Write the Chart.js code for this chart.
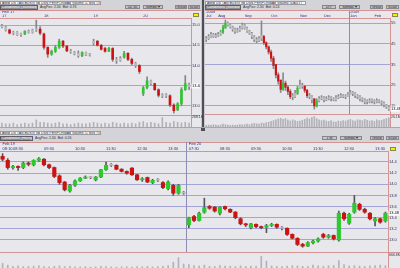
<!DOCTYPE html>
<html><head><meta charset="utf-8">
<script src="https://cdn.jsdelivr.net/npm/chart.js@4.4.1/dist/chart.umd.min.js"></script>
<style>
html,body{margin:0;padding:0;}
body{width:400px;height:268px;overflow:hidden;background:#e7e7ec;position:relative;font-family:"Liberation Sans",Arial,sans-serif;}
.a{position:absolute;box-sizing:border-box;white-space:nowrap;overflow:hidden;}
.hdr{background:#d3d3d8;}
.fld{background:#fff;border:1px solid #9a9aa2;font-size:3.5px;line-height:2px;color:#223;padding-left:1px;}
.btnd{background:#8e8e96;color:#fff;font-size:3.5px;line-height:3px;padding-left:1px;border:1px solid #5e5e66;}
.btn{background:#c6c6cc;border:1px solid #86868e;font-size:3.5px;line-height:2px;color:#222;text-align:center;}
.txt{font-size:3.5px;line-height:4px;color:#333;}
.rl{background:#d59494;height:1px;}
.yb{background:#f4f000;border:1px solid #8a8a40;}
.vl{font-size:3.5px;line-height:4px;color:#334;}
canvas{position:absolute;}
</style></head><body>

<!-- top-left header -->
<div class="a hdr" style="left:0;top:0;width:202px;height:10px"></div>
<div class="a fld" style="left:0;top:1px;width:9px;height:4px">AMR</div>
<div class="a fld" style="left:9px;top:1px;width:30px;height:4px">US TAN BUSIV NOTIFY</div>
<div class="a fld" style="left:39px;top:1px;width:31px;height:4px">DSN PERFORMANCE</div>
<div class="a fld" style="left:70px;top:1px;width:31px;height:4px">Volume (1 MIN TIC)</div>
<div class="a btnd" style="left:0;top:5px;width:38px;height:5px">Candlestick (Standard)</div>
<div class="a txt" style="left:40px;top:5px;width:40px;height:5px">AvgPos: 2.34 &nbsp;Bid: 0.76</div>
<div class="a btn" style="left:125px;top:5px;width:15px;height:4px">5D 30</div>
<div class="a btn" style="left:143px;top:5px;width:20px;height:4px">Symbol &#9662;</div>
<div class="a btn" style="left:175px;top:5px;width:12px;height:4px">Group</div>
<div class="a btn" style="left:188px;top:5px;width:12px;height:4px">Scale</div>
<div class="a rl" style="left:0;top:10px;width:202px"></div>

<!-- top-right header -->
<div class="a hdr" style="left:205px;top:0;width:195px;height:10px"></div>
<div class="a fld" style="left:205px;top:1px;width:9px;height:4px">AMR</div>
<div class="a fld" style="left:214px;top:1px;width:30px;height:4px">US TAN BUSIV NOTIFY</div>
<div class="a fld" style="left:244px;top:1px;width:31px;height:4px">DSN PERFORMANCE</div>
<div class="a fld" style="left:275px;top:1px;width:31px;height:4px">Volume (DAILY)</div>
<div class="a btnd" style="left:205px;top:5px;width:36px;height:5px">Candlestick (Standard)</div>
<div class="a txt" style="left:243px;top:5px;width:40px;height:5px">AvgPos: 2.34 &nbsp;Bid: 0.24</div>
<div class="a btn" style="left:322px;top:5px;width:14px;height:4px">D/Y</div>
<div class="a btn" style="left:339px;top:5px;width:21px;height:4px">Symbol &#9662;</div>
<div class="a btn" style="left:370px;top:5px;width:13px;height:4px">Group</div>
<div class="a btn" style="left:386px;top:5px;width:13px;height:4px">Scale</div>
<div class="a rl" style="left:205px;top:10px;width:195px"></div>

<!-- separator between top panels -->
<div class="a" style="left:201px;top:0;width:4px;height:131px;background:#c8c8cc"></div>
<div class="a" style="left:202px;top:0;width:2px;height:131px;background:#4e4e56"></div>

<!-- bottom header -->
<div class="a rl" style="left:0;top:127px;width:400px"></div>
<div class="a hdr" style="left:0;top:128px;width:400px;height:14px"></div>
<div class="a" style="left:201px;top:128px;width:4px;height:3px;background:#4e4e56"></div>
<div class="a fld" style="left:0;top:131px;width:9px;height:4px">AMR</div>
<div class="a fld" style="left:9px;top:131px;width:30px;height:4px">US TAN BUSIV NOTIFY</div>
<div class="a fld" style="left:39px;top:131px;width:31px;height:4px">DSN PERFORMANCE</div>
<div class="a fld" style="left:70px;top:131px;width:31px;height:4px">Volume (1 MIN TIC)</div>
<div class="a btnd" style="left:0;top:136px;width:33px;height:5px">Candlestick (Hourly)</div>
<div class="a txt" style="left:35px;top:136px;width:40px;height:5px">AvgPos: 2.34 &nbsp;Bid: 0.26</div>
<div class="a btn" style="left:322px;top:136px;width:15px;height:4px">1 M</div>
<div class="a btn" style="left:340px;top:136px;width:22px;height:4px">Symbol &#9662;</div>
<div class="a btn" style="left:370px;top:136px;width:14px;height:4px">Group</div>
<div class="a btn" style="left:386px;top:136px;width:13px;height:4px">Scale</div>
<div class="a rl" style="left:0;top:142px;width:400px"></div>

<canvas id="cTL" width="200" height="116" style="left:0;top:11px"></canvas>
<canvas id="cTR" width="195" height="116" style="left:205px;top:11px"></canvas>
<canvas id="cB" width="400" height="126" style="left:0;top:142px"></canvas>

<div class="a yb" style="left:193px;top:13px;width:6px;height:4px"></div>
<div class="a yb" style="left:392px;top:13px;width:6px;height:4px"></div>
<div class="a yb" style="left:390px;top:147px;width:6px;height:4px"></div>
<div class="a vl" style="left:192px;top:115px">268.1K</div>
<div class="a vl" style="left:391px;top:115px">26.1M</div>
<div class="a vl" style="left:389px;top:253px">666.8K</div>

<script>
// ---------------- DATA ----------------
// Top-left: 5-day chart, 30-minute candles (Feb 17 - Feb 20)
const tlDayTicks = [[0, '17'], [11, '18'], [24, '19'], [37, '20']];
const tlMonthTicks = [[0, 'Feb 17']];
const tlOpen  = [14.98,14.95,14.88,14.80,14.82,14.76,14.78,14.85,14.82,14.88,14.90, 14.78,14.45,14.28,14.35,14.45,14.60,14.48,14.36,14.33,14.30,14.24,14.32,14.26, 14.55,14.60,14.50,14.42,14.35,14.42,14.15,14.12,14.20,14.30,14.15,14.05,14.00, 13.30,13.45,13.62,13.55,13.40,13.26,13.24,13.25,13.02,12.90,13.05,13.40,13.52];
const tlHigh  = [15.02,14.97,14.90,14.85,14.84,14.80,14.86,14.88,14.90,15.12,14.96, 14.80,14.46,14.38,14.50,14.65,14.62,14.50,14.40,14.35,14.36,14.34,14.33,14.30, 14.65,14.62,14.52,14.45,14.45,14.44,14.20,14.22,14.35,14.32,14.18,14.08,14.02, 13.48,13.72,13.64,13.56,13.42,13.30,13.30,13.27,13.05,13.08,13.45,13.75,13.56];
const tlLow   = [14.93,14.85,14.78,14.76,14.74,14.72,14.76,14.80,14.80,14.84,14.76, 14.40,14.20,14.25,14.32,14.42,14.44,14.34,14.30,14.26,14.20,14.22,14.24,14.23, 14.50,14.48,14.38,14.33,14.34,14.10,14.05,14.10,14.18,14.12,14.02,13.95,13.80, 13.25,13.42,13.52,13.38,13.22,13.20,13.20,12.98,12.82,12.88,13.00,13.38,13.40];
const tlClose = [14.95,14.88,14.80,14.82,14.76,14.78,14.85,14.82,14.88,14.90,14.80, 14.45,14.28,14.35,14.45,14.60,14.48,14.36,14.33,14.28,14.24,14.32,14.26,14.27, 14.60,14.50,14.40,14.35,14.42,14.15,14.12,14.18,14.30,14.15,14.05,14.00,13.85, 13.45,13.62,13.55,13.40,13.26,13.24,13.28,13.02,12.88,13.05,13.40,13.55,13.48];
const tlVolume = [5,4,4,5,3,4,5,4,5,9,6, 6,5,4,5,6,4,4,3,4,5,4,4,5, 6,5,4,5,4,6,5,4,5,4,5,4,6, 7,5,6,5,4,12,6,5,7,6,5,6,5];
const tlPriceTicks = [13.0, 13.5, 14.0, 14.5, 15.0];

// Top-right: Jul 2008 - Feb 2009, daily (2-day) candles
const trMonthTicks = [[0,'Jul'],[5,'Aug'],[16,'Sep'],[27,'Oct'],[39,'Nov'],[49,'Dec'],[60,'Jan'],[70,'Feb']];
const trYearTicks = [[0,'2008'],[60,'2009']];
const trOpen  = [47.0,47.5,48.5,49.5,48.5,49.0,49.5,50.5,52.5,55.0, 54.0,53.0,52.0,51.0,51.5,52.5,54.0,52.5,51.0,50.0, 48.5,47.0,46.5,47.5,48.5,45.5,43.5,41.0,38.0,35.0, 30.0,27.5,23.0,26.0,24.0,22.0,19.5,19.5,21.0,23.5, 25.0,24.5,22.5,20.0,19.5,18.5,15.0,17.5,18.5,19.0, 18.0,18.5,19.0,18.5,18.0,19.0,19.5,20.0,19.5,19.5, 20.5,21.5,21.0,20.0,19.5,18.5,18.0,17.0,17.0,17.5, 17.5,17.0,17.5,17.0,16.5,15.5,14.5];
const trHigh  = [48.5,49.5,50.5,50,50,50.5,51.5,54,56.4,55.5, 54.5,53.5,52.5,52.5,53.5,55,54.5,53,51.5,50.5, 49,48,48.5,56,49,46,44,42,39,35, 31,27.5,31,27,25,23,21,22.5,24.5,27.5, 26,25,23,21,20,18.5,18.5,19.5,20,19.5, 19.5,20,19.5,19,20,20.5,21,20.5,20.5,21.5, 22.5,22,21.5,20.5,20,19,18.5,18,18.5,18.5, 18,18.5,18,17.5,17,15.8,15];
const trLow   = [46,47,48,48,48,48.5,49,50,52.5,53.5, 52.5,51,50,50.5,51,52,52,50.5,49.5,47.5, 46,45.5,46,46.5,44.5,42.5,40,36.5,33,28.5, 25.5,21.5,22.5,22.5,20.5,18.5,18,19,20.5,23.5, 23.5,21.5,19,18.5,16.5,13.5,14.5,17,18,17, 17.5,18,17.5,17.5,17.5,18.5,19,19,18.5,19.5, 20.5,20,19,18.5,17.5,17,16,16,16.5,16.5, 16,16.5,16.5,15.5,14.5,13.8,12.8];
const trClose = [47.5,48.5,49.5,48.5,49,49.5,50.5,53,55,54, 53,52,51,51.5,52.5,54,52.5,51,50,48.5, 47,46.5,47.5,49,45.5,43.5,41,38,34.5,30, 27,23,26,24,22,19.5,19.5,21,23.5,25, 24.5,22.5,20,19.5,18,15,17.5,18.5,19,18, 18.5,19,18.5,18,19,19.5,20,19.5,19.5,20.5, 21.5,21,20,19.5,18.5,18,17,17,17.5,17.5, 17,17.5,17,16.5,15.5,14.5,13.48];
const trVolume = [4,5,4,6,5,4,5,7,6,5, 4,5,4,5,6,5,6,7,6,8, 9,8,7,10,9,11,12,14,16,18, 20,22,19,21,17,15,18,16,14,15, 17,19,22,20,24,26,21,18,16,17, 15,14,16,13,12,15,14,16,15,17, 19,16,15,18,17,16,19,17,15,16, 14,18,16,17,19,21,23];
const trPriceTicks = [15,20,25,30,35,40,45,50,55];

// Bottom: Feb 19 - Feb 20, 10-minute candles
const bDays = [['Feb 19', '08:10', 36], ['Feb 20', '07:30', 39]];
const bOpen  = [14.50,14.43,14.30,14.32,14.30,14.38,14.35,14.43,14.45,14.35, 14.30,14.15,14.04,13.88,13.98,14.06,14.11,14.13,14.08,14.13, 14.26,14.34,14.34,14.27,14.23,14.29,14.17,14.08,14.12,14.03, 14.07,14.03,13.92,13.98,13.84,13.85,
  13.27,13.42,13.35,13.50,13.60,13.59,13.48,13.60,13.55,13.50, 13.38,13.29,13.22,13.28,13.24,13.23,13.26,13.28,13.22,13.21, 13.10,13.03,12.92,12.89,12.95,12.98,13.10,13.05,13.08,13.00, 13.48,13.30,13.50,13.64,13.55,13.48,13.34,13.38,13.34];
const bHigh  = [14.55,14.46,14.34,14.33,14.40,14.40,14.44,14.48,14.46,14.36, 14.31,14.17,14.05,14.00,14.08,14.12,14.15,14.14,14.14,14.27, 14.40,14.37,14.35,14.28,14.24,14.30,14.18,14.12,14.13,14.09, 14.10,14.05,14.06,14.00,14.00,13.87,
  13.41,13.44,13.50,13.75,13.62,13.60,13.60,13.61,13.56,13.51, 13.40,13.30,13.30,13.29,13.25,13.28,13.30,13.29,13.24,13.22, 13.11,13.04,12.94,12.97,13.00,13.04,13.12,13.10,13.09,13.52, 13.50,13.48,13.80,13.66,13.57,13.49,13.40,13.39,13.50];
const bLow   = [14.42,14.27,14.27,14.25,14.28,14.33,14.33,14.41,14.33,14.28, 14.12,14.00,13.88,13.86,13.96,14.05,14.10,14.10,14.06,14.12, 14.25,14.32,14.26,14.22,14.18,14.16,14.07,14.05,14.03,14.01, 14.05,13.92,13.90,13.80,13.82,13.82,
  13.22,13.33,13.34,13.48,13.55,13.50,13.45,13.54,13.49,13.38, 13.27,13.24,13.20,13.22,13.20,13.13,13.24,13.21,13.18,13.08, 13.02,12.90,12.87,12.88,12.93,12.96,13.03,13.03,13.00,12.98, 13.35,13.28,13.48,13.53,13.48,13.36,13.25,13.30,13.32];
const bClose = [14.45,14.30,14.32,14.30,14.38,14.36,14.43,14.46,14.35,14.30, 14.14,14.03,13.90,13.98,14.06,14.11,14.13,14.12,14.13,14.26, 14.34,14.35,14.27,14.23,14.20,14.17,14.08,14.10,14.04,14.07, 14.08,13.94,14.04,13.84,13.98,13.84,
  13.40,13.35,13.48,13.58,13.57,13.52,13.59,13.56,13.50,13.40, 13.29,13.27,13.29,13.24,13.22,13.26,13.28,13.23,13.21,13.10, 13.03,12.92,12.89,12.95,12.98,13.02,13.05,13.08,13.02,13.48, 13.38,13.46,13.66,13.55,13.50,13.38,13.38,13.32,13.48];
const bVolume = [40,25,15,18,12,14,16,20,12,10, 14,18,12,15,10,9,12,8,10,14, 12,9,8,10,11,9,12,10,14,9, 12,15,20,50,90,35,
  30,20,18,25,15,14,22,16,15,12, 18,14,16,15,100,60,18,14,12,16, 20,18,15,14,25,18,16,20,22,65, 30,18,20,16,14,18,22,25,20];
const bPriceTicks = [13.0,13.2,13.4,13.6,13.8,14.0,14.2,14.4];

// ---------------- RENDER ----------------
const FONT = "'Liberation Sans', Arial, sans-serif";
const UP = '#2cc82c', DOWN = '#cc1212', FLAT = '#bcbcc0';

function tickMap(pairs){ const m = {}; pairs.forEach(([i, t]) => m[i] = t); return m; }

const lpPlugin = {
  id: 'lp',
  afterDraw(chart, _a, o) {
    const s = chart.scales.y, ctx = chart.ctx;
    const py = Math.round(s.getPixelForValue(o.value));
    ctx.save();
    ctx.fillStyle = '#fff';
    ctx.fillRect(s.left + 0.5, py - 2.5, s.width - 1, 5);
    ctx.fillStyle = '#000';
    ctx.font = '4px ' + FONT;
    ctx.textBaseline = 'middle';
    ctx.fillText(o.text, s.left + 1, py);
    ctx.restore();
  }
};
const sepPlugin = {
  id: 'sep',
  beforeDatasetsDraw(chart, _a, o) {
    const ctx = chart.ctx, x = chart.scales.x, x2 = chart.scales.x2, y = chart.scales.y;
    ctx.save();
    ctx.lineWidth = 1;
    ctx.strokeStyle = '#8c8cb4';
    (o.idx || []).forEach(i => {
      const px = Math.round((x.getPixelForValue(i - 1) + x.getPixelForValue(i)) / 2) + 0.5;
      ctx.beginPath(); ctx.moveTo(px, x2.top); ctx.lineTo(px, y.bottom); ctx.stroke();
    });
    ctx.strokeStyle = '#d59494';
    const hy = Math.round(y.bottom) - 0.5;
    ctx.beginPath(); ctx.moveTo(0, hy); ctx.lineTo(chart.width, hy); ctx.stroke();
    ctx.restore();
  }
};

function makeChart(id, p) {
  const n = p.open.length;
  const labels = Array.from({length: n}, (_, i) => String(i));
  const colors = p.open.map((o, i) => Math.abs(p.close[i] - o) < p.thr ? FLAT : (p.close[i] > o ? UP : DOWN));
  const xt = tickMap(p.xTicks), x2t = tickMap(p.x2Ticks);
  const lab = {font: {size: 4, family: FONT}, color: '#2b3580'};
  return new Chart(document.getElementById(id), {
    type: 'bar',
    data: {
      labels,
      datasets: [
        {data: p.open.map((o, i) => [o, p.close[i]]), backgroundColor: colors, barThickness: p.bodyW, minBarLength: 1, grouped: false, order: 0, yAxisID: 'y'},
        {data: p.low.map((l, i) => [l, p.high[i]]), backgroundColor: p.wick, barThickness: 1, grouped: false, order: 1, yAxisID: 'y'},
        {data: p.vol, backgroundColor: '#b2b2b8', barThickness: 1, grouped: false, order: 2, yAxisID: 'yv'}
      ]
    },
    options: {
      responsive: false, animation: false, events: [],
      layout: {padding: 0},
      plugins: {legend: {display: false}, tooltip: {enabled: false},
        lp: {value: p.close[n - 1], text: p.close[n - 1].toFixed(2)},
        sep: {idx: p.sepIdx}},
      scales: {
        x: {type: 'category', position: 'top', offset: true,
            grid: {display: false, drawTicks: false, tickLength: 0},
            border: {display: true, color: '#d59494'},
            ticks: Object.assign({autoSkip: false, maxRotation: 0, minRotation: 0, padding: 0, align: 'start',
              callback: (v, i) => xt[i] || ''}, lab),
            afterFit: s => { s.height = p.xH; s.paddingLeft = 0; s.paddingRight = 0; }},
        x2: {type: 'category', position: 'top', offset: true,
            grid: {display: false, drawTicks: false, tickLength: 0},
            border: {display: false},
            ticks: Object.assign({autoSkip: false, maxRotation: 0, minRotation: 0, padding: 0, align: 'start',
              callback: (v, i) => x2t[i] || ''}, lab),
            afterFit: s => { s.height = p.x2H; s.paddingLeft = 0; s.paddingRight = 0; }},
        y: {type: 'linear', position: 'right', stack: 'st', stackWeight: p.priceH,
            min: p.yMin, max: p.yMax,
            grid: {color: '#a4a4d6', drawTicks: false, tickLength: 0},
            border: {display: true, color: '#d59494'},
            ticks: {padding: 1, font: {size: 4, family: FONT}, color: '#2e2e50', callback: v => p.fmt(v)},
            afterBuildTicks: s => { s.ticks = p.yTicks.map(v => ({value: v})); },
            afterFit: s => { s.width = p.yW; s.paddingTop = 0; s.paddingBottom = 0; }},
        yv: {type: 'linear', position: 'right', stack: 'st', stackWeight: p.volH,
            min: 0, max: p.vMax,
            grid: {display: false, drawTicks: false},
            border: {display: true, color: '#d59494'},
            ticks: {display: false},
            afterFit: s => { s.width = p.yW; s.paddingTop = 0; s.paddingBottom = 0; }}
      }
    },
    plugins: [sepPlugin, lpPlugin]
  });
}

makeChart('cTL', {
  open: tlOpen, high: tlHigh, low: tlLow, close: tlClose, vol: tlVolume,
  xTicks: tlDayTicks, x2Ticks: tlMonthTicks, sepIdx: [],
  thr: 0.07, bodyW: 2, wick: '#858589',
  xH: 3.5, x2H: 3.5, yW: 9, priceH: 97, volH: 11,
  yMin: 12.75, yMax: 15.175, yTicks: tlPriceTicks, fmt: v => v.toFixed(1), vMax: 14
});

makeChart('cTR', {
  open: trOpen, high: trHigh, low: trLow, close: trClose, vol: trVolume,
  xTicks: trMonthTicks, x2Ticks: trYearTicks, sepIdx: [60],
  thr: 2.0, bodyW: 1.5, wick: '#8a8a8e',
  xH: 3.5, x2H: 3.5, yW: 10, priceH: 97, volH: 12,
  yMin: 10.66, yMax: 57.41, yTicks: trPriceTicks, fmt: v => String(v), vMax: 30
});

// bottom time labels built from the session start times
const bTimeTicks = [], bDayTicks = [], bSep = [];
let idx = 0;
bDays.forEach(([day, start, count]) => {
  let [hh, mm] = start.split(':').map(Number);
  bDayTicks.push([idx, day]);
  if (idx > 0) bSep.push(idx);
  for (let k = 0; k < count; k++) {
    const t = String(hh).padStart(2, '0') + ':' + String(mm).padStart(2, '0');
    if (mm === 30 || (idx === 0 && k === 0)) bTimeTicks.push([idx + k, t]);
    mm += 10; if (mm >= 60) { mm -= 60; hh += 1; }
  }
  idx += count;
});

makeChart('cB', {
  open: bOpen, high: bHigh, low: bLow, close: bClose, vol: bVolume,
  xTicks: bTimeTicks, x2Ticks: bDayTicks, sepIdx: bSep,
  thr: 0.015, bodyW: 3.5, wick: '#55555a',
  xH: 4.5, x2H: 4.5, yW: 12, priceH: 102, volH: 15,
  yMin: 12.766, yMax: 14.597, yTicks: bPriceTicks, fmt: v => v.toFixed(1), vMax: 130
});
</script>
</body></html>
